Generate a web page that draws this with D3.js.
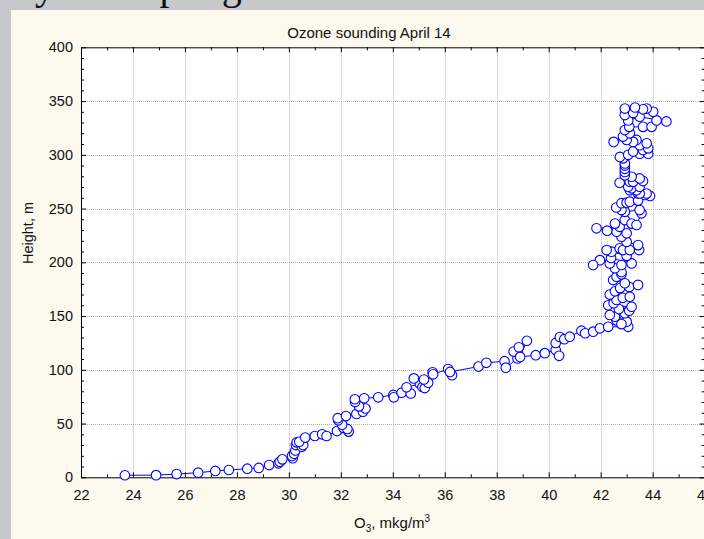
<!DOCTYPE html>
<html>
<head>
<meta charset="utf-8">
<script src="https://cdn.jsdelivr.net/npm/d3@7"></script>
<style>
  html, body { margin: 0; padding: 0; background: #c6c8cc; }
  svg { display: block; }
  text { font-family: "Liberation Sans", Arial, sans-serif; fill: #111; }
</style>
</head>
<body>
<svg id="chart" width="704" height="539"></svg>
<script>
// Ozone concentration (mkg/m3) and sounding height (m), in flight order
const ozone = [
  23.69, 24.89, 25.68, 26.51, 27.17, 27.69, 28.40, 28.84, 29.24, 29.60,
  29.65, 29.75, 30.15, 30.12, 30.20, 30.25, 30.27, 30.30, 30.50, 30.55,
  30.40, 30.63, 31.00, 31.28, 31.45, 31.85, 32.10, 32.30, 32.25, 32.05,
  31.90, 31.88, 32.20, 32.60, 32.85, 32.95, 32.70, 32.55, 32.54, 32.90,
  33.44, 34.02, 34.04, 34.34, 34.69, 34.53, 35.04, 35.14, 35.23, 35.36,
  34.81, 35.20, 35.53, 35.55, 36.13, 36.28, 36.20, 37.30, 37.60, 38.30,
  38.35, 38.80, 38.65, 38.85, 39.16, 38.90, 39.50, 39.85, 40.27, 40.27,
  40.40, 40.43, 40.60, 40.81, 41.26, 41.40, 41.71, 41.97, 42.29, 43.06,
  43.00, 42.61, 42.80, 42.55, 42.35, 42.93, 43.10, 42.70, 43.19, 42.29,
  42.50, 42.61, 42.85, 43.12, 42.35, 42.55, 42.75, 43.10, 43.44, 42.93,
  42.48, 42.61, 42.80, 42.80, 42.55, 42.80, 42.35, 41.97, 41.71, 42.40,
  43.19, 43.00, 42.42, 42.23, 42.73, 42.86, 43.12, 43.48, 43.44, 43.00,
  42.80, 43.00, 42.61, 42.25, 41.84, 42.73, 42.55, 42.93, 43.19, 43.38,
  43.57, 43.50, 42.93, 42.80, 42.60, 42.80, 43.00, 43.12, 43.44, 43.90,
  43.70, 43.44, 43.77, 43.50, 43.38, 43.12, 43.19, 43.06, 43.50, 42.73,
  43.12, 43.25, 43.63, 43.50, 43.19, 42.93, 42.93, 42.93, 42.93, 42.93,
  42.86, 42.74, 43.06, 43.50, 43.83, 43.25, 43.63, 43.83, 43.50, 43.77,
  43.38, 43.25, 43.00, 42.50, 42.86, 43.12, 42.93, 43.10, 43.63, 43.96,
  44.15, 44.53, 43.50, 43.06, 42.93, 43.25, 44.02, 43.77, 43.63, 43.32,
  42.93
];
const height = [
    1.9,   2.0,   3.0,   4.3,   5.9,   6.8,   8.0,   8.7,  11.4,  13.0,
   14.5,  16.7,  17.7,  19.8,  22.0,  25.0,  30.0,  32.5,  28.5,  30.0,
   33.0,  37.0,  38.4,  40.0,  38.4,  43.0,  46.0,  42.5,  45.0,  49.0,
   53.0,  55.0,  57.0,  59.0,  61.0,  64.0,  66.0,  70.0,  72.6,  73.5,
   74.4,  76.6,  74.4,  78.7,  78.0,  83.7,  87.0,  84.0,  83.0,  88.0,
   92.0,  91.0,  97.7,  95.8, 100.7,  95.0,  98.0, 103.0, 106.5, 108.0,
  102.0, 110.5, 117.0, 121.0, 127.0, 112.0, 113.6, 115.5, 118.5, 125.0,
  113.0, 130.5, 128.5, 130.8, 136.4, 134.0, 135.5, 138.6, 140.0, 140.0,
  144.8, 146.0, 142.5, 149.4, 151.0, 152.6, 155.0, 156.5, 158.7, 160.0,
  162.0, 165.0, 167.0, 168.0, 170.0, 173.0, 176.0, 177.0, 179.0, 180.5,
  183.5, 186.6, 189.0, 191.0, 194.4, 197.5, 199.0, 202.0, 197.5, 204.0,
  199.0, 206.0, 209.9, 211.4, 213.0, 211.4, 211.4, 211.4, 216.0, 219.0,
  223.8, 227.0, 228.5, 229.4, 231.6, 233.0, 236.0, 239.3, 236.0, 234.7,
  245.6, 248.6, 247.0, 248.6, 251.0, 255.0, 255.5, 256.4, 257.4, 261.7,
  262.6, 264.0, 264.0, 264.0, 267.0, 267.0, 268.8, 270.3, 270.3, 274.0,
  275.0, 275.0, 275.6, 278.0, 279.6, 281.0, 284.0, 287.0, 290.0, 292.0,
  296.7, 298.0, 300.0, 301.0, 301.0, 303.0, 304.5, 306.0, 309.0, 310.7,
  313.8, 312.0, 313.8, 312.0, 317.0, 320.0, 323.0, 326.0, 326.0, 326.0,
  332.0, 331.0, 335.4, 332.0, 337.0, 339.0, 340.0, 343.0, 342.3, 344.0,
  343.0
];
const xTicks = [22, 24, 26, 28, 30, 32, 34, 36, 38, 40, 42, 44, 46];
const xMinor = [23, 25, 27, 29, 31, 33, 35, 37, 39, 41, 43, 45];
const yTicks = [0, 50, 100, 150, 200, 250, 300, 350, 400];
const yMinor = d3.range(0, 401, 10).filter(v => v % 50 !== 0);

const svg = d3.select("#chart");
const W = 704, H = 539;

// grey backdrop and cream chart panel
svg.append("rect").attr("width", W).attr("height", H).attr("fill", "#c6c8cc");
svg.append("text")
  .attr("x", 35).attr("y", -1)
  .style("font-family", "'Liberation Serif', 'DejaVu Serif', serif")
  .style("font-size", "40px").style("word-spacing", "30px")
  .attr("fill", "#111")
  .text("y sampling");
svg.append("rect").attr("x", 11).attr("y", 10).attr("width", 740).attr("height", 560)
  .attr("fill", "#fdf9ef");

const x = d3.scaleLinear().domain([22, 46]).range([81, 704.6]);
const y = d3.scaleLinear().domain([0, 400]).range([477.3, 47.3]);

const [x0, x1] = x.range();
const [y0, y1] = y.range();

svg.append("rect").attr("x", x0).attr("y", y1)
  .attr("width", x1 - x0).attr("height", y0 - y1).attr("fill", "#fff");

// dotted grid
const grid = svg.append("g").attr("stroke", "#b0b0b0").attr("stroke-width", 1)
  .attr("stroke-dasharray", "1,1");
grid.selectAll("line.gx").data(xTicks.slice(1, -1)).join("line")
  .attr("x1", d => Math.round(x(d)) + 0.5).attr("x2", d => Math.round(x(d)) + 0.5)
  .attr("y1", y1).attr("y2", y0);
grid.selectAll("line.gy").data(yTicks.slice(1, -1)).join("line")
  .attr("y1", d => Math.round(y(d)) + 0.5).attr("y2", d => Math.round(y(d)) + 0.5)
  .attr("x1", x0).attr("x2", x1);

// axes on all four sides, ticks pointing inwards
function styleAxis(g) {
  g.selectAll("path").attr("stroke", "#000");
  g.selectAll("line").attr("stroke", "#000");
  g.selectAll("text").style("font-family", "'Liberation Sans', Arial, sans-serif")
    .style("font-size", "14.5px").attr("fill", "#111");
}
svg.append("g").attr("transform", `translate(0,${y0})`)
  .call(d3.axisBottom(x).tickValues(xTicks).tickFormat(d3.format("d"))
    .tickSizeInner(-5).tickSizeOuter(0).tickPadding(12))
  .call(styleAxis);
svg.append("g").attr("transform", `translate(0,${y0})`)
  .call(d3.axisBottom(x).tickValues(xMinor).tickFormat("").tickSizeInner(-3).tickSizeOuter(0))
  .call(g => g.select("path").remove()).call(styleAxis);
svg.append("g").attr("transform", `translate(0,${y1})`)
  .call(d3.axisTop(x).tickValues(xTicks).tickFormat("").tickSizeInner(-5).tickSizeOuter(0))
  .call(styleAxis);
svg.append("g").attr("transform", `translate(0,${y1})`)
  .call(d3.axisTop(x).tickValues(xMinor).tickFormat("").tickSizeInner(-3).tickSizeOuter(0))
  .call(g => g.select("path").remove()).call(styleAxis);
svg.append("g").attr("transform", `translate(${x0},0)`)
  .call(d3.axisLeft(y).tickValues(yTicks).tickFormat(d3.format("d"))
    .tickSizeInner(-5).tickSizeOuter(0).tickPadding(8))
  .call(styleAxis);
svg.append("g").attr("transform", `translate(${x0},0)`)
  .call(d3.axisLeft(y).tickValues(yMinor).tickFormat("").tickSizeInner(-3).tickSizeOuter(0))
  .call(g => g.select("path").remove()).call(styleAxis);
svg.append("g").attr("transform", `translate(${x1},0)`)
  .call(d3.axisRight(y).tickValues(yTicks).tickFormat("").tickSizeInner(-5).tickSizeOuter(0))
  .call(styleAxis);
svg.append("g").attr("transform", `translate(${x1},0)`)
  .call(d3.axisRight(y).tickValues(yMinor).tickFormat("").tickSizeInner(-3).tickSizeOuter(0))
  .call(g => g.select("path").remove()).call(styleAxis);

// profile line and markers
const pts = ozone.map((v, i) => [v, height[i]]);
svg.append("path").datum(pts)
  .attr("fill", "none").attr("stroke", "#0000ff").attr("stroke-width", 1)
  .attr("d", d3.line().x(d => x(d[0])).y(d => y(d[1])));
svg.append("g").selectAll("circle").data(pts).join("circle")
  .attr("cx", d => x(d[0])).attr("cy", d => y(d[1])).attr("r", 4.8)
  .attr("fill", "#fff").attr("stroke", "#0000ff").attr("stroke-width", 1.1);

// titles
svg.append("text").attr("x", 369).attr("y", 38).attr("text-anchor", "middle")
  .style("font-size", "15px").text("Ozone sounding April 14");
svg.append("text").attr("transform", "translate(33,233) rotate(-90)")
  .attr("text-anchor", "middle").style("font-size", "14.5px").text("Height, m");
const xl = svg.append("text").attr("x", 354).attr("y", 528).style("font-size", "15px");
xl.append("tspan").text("O");
xl.append("tspan").attr("dy", 4).style("font-size", "10px").text("3");
xl.append("tspan").attr("dy", -4).text(", mkg/m");
xl.append("tspan").attr("dy", -6).style("font-size", "10px").text("3");
</script>
</body>
</html>
